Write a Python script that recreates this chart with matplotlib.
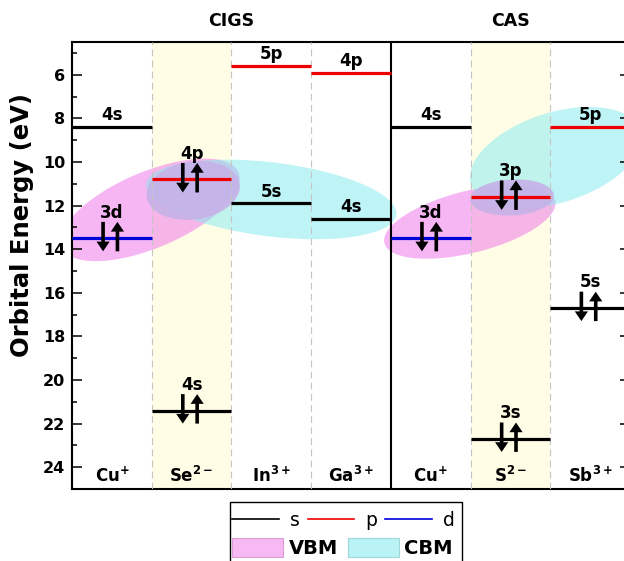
import matplotlib
matplotlib.use("Agg")
import matplotlib.pyplot as plt
from matplotlib.patches import Ellipse, Rectangle, Patch
from matplotlib.lines import Line2D
from matplotlib.transforms import ScaledTranslation, blended_transform_factory

plt.rcParams["font.family"] = ["DejaVu Sans"]
plt.rcParams["font.weight"] = "bold"
plt.rcParams["mathtext.fontset"] = "custom"
plt.rcParams["mathtext.rm"] = "DejaVu Sans:bold"
plt.rcParams["mathtext.bf"] = "DejaVu Sans:bold"
plt.rcParams["mathtext.it"] = "DejaVu Sans:bold"
plt.rcParams["mathtext.default"] = "rm"

# ---- data -------------------------------------------------------------
ions = [r"Cu$^{+}$", r"Se$^{2-}$", r"In$^{3+}$", r"Ga$^{3+}$",
        r"Cu$^{+}$", r"S$^{2-}$", r"Sb$^{3+}$"]
anion_cols = [1, 5]
groups = ["CIGS", "CAS"]
group_centers = [2.0, 5.5]

level_col = [0, 0, 1, 1, 2, 2, 3, 3, 4, 4, 5, 5, 6, 6]
level_name = ["4s", "3d", "4p", "4s", "5p", "5s", "4p", "4s",
              "4s", "3d", "3p", "3s", "5p", "5s"]
level_energy = [8.4, 13.5, 10.8, 21.4, 5.6, 11.9, 5.9, 12.6,
                8.4, 13.5, 11.6, 22.7, 8.4, 16.7]
level_kind = ["s", "d", "p", "s", "p", "s", "p", "s",
              "s", "d", "p", "s", "p", "s"]
level_paired = [False, True, True, True, False, False, False, False,
                False, True, True, True, False, True]

# band-edge regions: (kind, column position, energy, width in, height in, angle)
region_kind = ["VBM", "CBM", "MIX", "VBM", "CBM", "MIX"]
region_x = [0.98, 2.50, 1.52, 4.99, 6.07, 5.52]
region_e = [12.2, 11.72, 11.31, 12.75, 9.80, 11.63]
region_w = [1.92, 2.52, 0.94, 1.76, 1.78, 0.84]
region_h = [0.76, 0.74, 0.58, 0.62, 0.90, 0.36]
region_angle = [23, -7, 8, 14, 17.6, 3]

yticks = [6, 8, 10, 12, 14, 16, 18, 20, 22, 24]

# ---- styles -----------------------------------------------------------
kind_color = {"s": "#000000", "p": "#ee0000", "d": "#0000dd"}
region_style = {
    "VBM": dict(facecolor="#ee6ee8", alpha=0.5, zorder=1.2),
    "CBM": dict(facecolor="#80eaf0", alpha=0.5, zorder=1.4),
    "MIX": dict(facecolor="#c6b2e8", alpha=0.9, zorder=1.6),
}

fig = plt.figure(figsize=(6.24, 5.61), dpi=100)
ax = fig.add_axes([72 / 624, 72 / 561, 558 / 624, 447 / 561])
ax.set_xlim(0, 7)
ax.set_ylim(25, 4.5)

for c in anion_cols:
    ax.axvspan(c, c + 1, color="#fffde6", zorder=0, lw=0)
for c in [1, 2, 3, 5, 6]:
    ax.axvline(c, color="#c4c4c4", lw=0.8, ls=(0, (6, 4)), zorder=3)
ax.axvline(4, color="black", lw=1.5, zorder=3)

for k, x, e, w, h, a in zip(region_kind, region_x, region_e,
                            region_w, region_h, region_angle):
    tr = fig.dpi_scale_trans + ScaledTranslation(x, e, ax.transData)
    el = Ellipse((0, 0), w, h, angle=a, transform=tr, lw=0,
                 **region_style[k])
    el.set_clip_box(ax.bbox)
    ax.add_patch(el)

arrow = dict(width=2.6, headwidth=9.5, headlength=7.0, shrink=0,
             facecolor="black", edgecolor="black", lw=0)
for c, name, e, kind, paired in zip(level_col, level_name, level_energy,
                                    level_kind, level_paired):
    ax.hlines(e, c, c + 1, color=kind_color[kind], lw=2.3, zorder=4)
    xc = c + 0.5
    if paired:
        ax.annotate("", xy=(xc - 0.11, e + 0.6), xytext=(xc - 0.11, e - 0.75),
                    arrowprops=arrow, zorder=5)
        ax.annotate("", xy=(xc + 0.07, e - 0.75), xytext=(xc + 0.07, e + 0.6),
                    arrowprops=arrow, zorder=5)
        ty = e - 0.95
    else:
        ty = e - 0.3
    ax.text(xc, ty, name, ha="center", va="baseline", fontsize=12,
            fontweight="bold", zorder=6)

for i, lab in enumerate(ions):
    ax.text(i + 0.5, 24.68, lab, ha="center", va="baseline", fontsize=12,
            fontweight="bold", zorder=6)

tb = blended_transform_factory(ax.transData, ax.transAxes)
for g, xc in zip(groups, group_centers):
    ax.text(xc, 1.047, g, transform=tb, ha="center", va="center",
            fontsize=12.5, fontweight="bold")

ax.set_xticks([])
ax.set_yticks(yticks)
ax.set_yticks([y + 1 for y in yticks[:-1]] + [5], minor=True)
ax.tick_params(axis="y", which="both", direction="in", right=True,
               width=1.1, labelsize=11.5, pad=5)
ax.tick_params(axis="y", which="major", length=7)
ax.tick_params(axis="y", which="minor", length=3.6)
for lab in ax.get_yticklabels():
    lab.set_fontweight("bold")
for s in ax.spines.values():
    s.set_linewidth(1.5)

ax.set_ylabel("Orbital Energy (eV)", fontsize=17.5, fontweight="bold")
ax.yaxis.set_label_coords(-0.068, 0.59)

# legend: orbital types on the first row, band edges on the second
line_handles = [Line2D([], [], color=kind_color[k], lw=1.2) for k in "spd"]
leg1 = fig.legend(line_handles, ["s", "p", "d"], ncol=3, loc="center left",
                  bbox_to_anchor=(232 / 624, (561 - 520) / 561),
                  frameon=False, prop={"weight": "normal", "size": 13.5},
                  handlelength=2.5, handletextpad=0.6, columnspacing=0.4,
                  borderpad=0, borderaxespad=0)
patch_handles = [Patch(facecolor="#f8b8f4", edgecolor="#d8a0d4", lw=0.8),
                 Patch(facecolor="#baf3f5", edgecolor="#a0d8da", lw=0.8)]
leg2 = fig.legend(patch_handles, ["VBM", "CBM"], ncol=2, loc="center left",
                  bbox_to_anchor=(232 / 624, (561 - 548) / 561),
                  frameon=False, prop={"weight": "bold", "size": 14},
                  handlelength=2.63, handleheight=1.1, handletextpad=0.28,
                  columnspacing=0.5, borderpad=0, borderaxespad=0)
fig.add_artist(Rectangle((230 / 624, -0.05), 232 / 624, 0.05 + (561 - 502) / 561,
                         transform=fig.transFigure, fill=False, lw=1,
                         ec="black"))

fig.savefig("out.png", dpi=100)
